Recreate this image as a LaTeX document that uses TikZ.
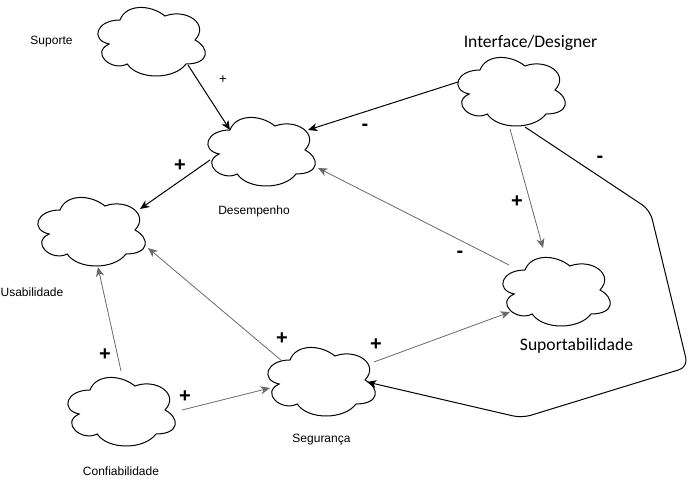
\documentclass[tikz,border=0pt]{standalone}
\usepackage{fontspec}
\setmainfont{Liberation Sans}
\newfontfamily\calibrifont{Carlito}
\usetikzlibrary{arrows.meta}
\definecolor{edgegray}{RGB}{105,105,105}
\newcommand{\mycloud}[3]{%
  \node[cloudbox] (#1) at (#2+60,#3+40) {};
  \draw[cloudline, shift={(#2,#3)}] (30,20) .. controls (6,20) and (0,40) .. (19.2,44)
    .. controls (0,52.8) and (21.6,72) .. (37.2,64)
    .. controls (48,80) and (84,80) .. (96,64)
    .. controls (120,64) and (120,48) .. (105,40)
    .. controls (120,24) and (96,8) .. (75,16)
    .. controls (60,4) and (36,4) .. (30,20) -- cycle;
}
\begin{document}
\begin{tikzpicture}[x=0.75pt,y=-0.75pt,
  cloudbox/.style={minimum width=90pt,minimum height=60pt,inner sep=0pt,draw=none},
  cloudline/.style={line width=0.75pt, draw=black, fill=white},
  lbl/.style={font=\fontsize{9}{11}\selectfont, inner sep=0pt},
  biglbl/.style={font=\calibrifont\fontsize{13.2}{15}\selectfont, inner sep=0pt},
  sign/.style={font=\bfseries\fontsize{15}{17}\selectfont, inner sep=0pt},
  smallsign/.style={font=\fontsize{10}{12}\selectfont, inner sep=0pt},
  conn/.style={line width=0.75pt, -{Stealth[length=7pt,width=6pt,inset=2pt]}},
  dark/.style={conn, draw=black},
  light/.style={conn, line width=0.6pt, draw=edgegray},
]
\useasboundingbox (0,0) rectangle (700,481);

% clouds
\mycloud{sup}{90}{0}
\mycloud{des}{200}{110}
\mycloud{usa}{30}{190}
\mycloud{int}{450}{50}
\mycloud{spt}{495}{250}
\mycloud{seg}{260}{340}
\mycloud{con}{60}{370}

% labels
\node[lbl] (lsup) at (51.5,41.5) {Suporte};
\node[lbl] (ldes) at (254,211) {Desempenho};
\node[lbl] (lusa) at (32,292) {Usabilidade};
\node[lbl] (lseg) at (321.5,440) {Segurança};
\node[lbl] (lcon) at (121,471) {Confiabilidade};
\node[biglbl] (lint) at (530.5,43) {Interface/Designer};
\node[biglbl] (lspt) at (576.5,346) {Suportabilidade};

% connectors
\draw[dark] ([shift={(38,25)}]sup.center) -- ([shift={(-30,-20)}]des.center);
\draw[dark] ([shift={(-52,-8)}]int.center) -- ([shift={(48,-20)}]des.center);
\draw[dark] ([shift={(-50,10)}]des.center) -- ([shift={(50,-21)}]usa.center);
\draw[light] ([shift={(0,39)}]int.center) -- ([shift={(-12,-42)}]spt.center);
\coordinate (k1) at (650,210);
\coordinate (k2) at (688,367);
\coordinate (k3) at (522,418);
\draw[dark, rounded corners=7pt] ([shift={(15,37)}]int.center) -- (k1) -- (k2) -- (k3) -- ([shift={(47,2)}]seg.center);
\draw[light] ([shift={(-46,-25)}]spt.center) -- ([shift={(58,18)}]des.center);
\draw[light] ([shift={(-38,-19)}]seg.center) -- ([shift={(58,18)}]usa.center);
\draw[light] ([shift={(54,-18)}]seg.center) -- ([shift={(-45,22)}]spt.center);
\draw[light] ([shift={(1,-39)}]con.center) -- ([shift={(8,37)}]usa.center);
\draw[light] ([shift={(62,0)}]con.center) -- ([shift={(-50,8)}]seg.center);

% signs
\node[smallsign] (s1) at (223,80) {+};
\node[sign] (s2) at (365,127) {-};
\node[sign] (s3) at (180,166) {+};
\node[sign] (s4) at (517,202) {+};
\node[sign] (s5) at (600,159) {-};
\node[sign] (s6) at (460,254) {-};
\node[sign] (s7) at (282,339) {+};
\node[sign] (s8) at (376,345) {+};
\node[sign] (s9) at (105,355) {+};
\node[sign] (s10) at (185,397) {+};
\end{tikzpicture}
\end{document}
